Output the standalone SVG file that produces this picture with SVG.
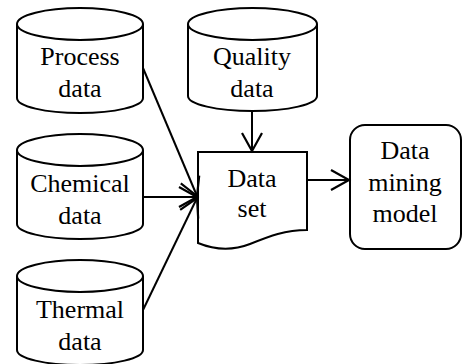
<svg xmlns="http://www.w3.org/2000/svg" width="463" height="364" viewBox="0 0 463 364">
<defs>
<style>
.s{fill:#fff;stroke:#000;stroke-width:2}
.l{fill:none;stroke:#000;stroke-width:2}
.t{font-family:"Liberation Serif","Times New Roman",serif;font-size:26px;fill:#000;text-anchor:middle}
</style>
<marker id="a" markerUnits="userSpaceOnUse" markerWidth="24" markerHeight="24" viewBox="-20 -12 22 24" refX="0" refY="0" orient="auto" overflow="visible">
<path d="M-18,-10 L0,0 L-18,10" fill="none" stroke="#000" stroke-width="2.2"/>
</marker>
</defs>
<g id="process">
<path class="s" d="M17,24 A63,16 0 0 1 143,24 L143,98 A63,15 0 0 1 17,98 Z"/>
<path class="l" d="M17,24 A63,16 0 0 0 143,24"/>
<text class="t" x="80" y="65">Process</text>
<text class="t" x="80" y="97">data</text>
</g>
<g id="chemical">
<path class="s" d="M17,150 A63,16 0 0 1 143,150 L143,224 A63,15 0 0 1 17,224 Z"/>
<path class="l" d="M17,150 A63,16 0 0 0 143,150"/>
<text class="t" x="80" y="192">Chemical</text>
<text class="t" x="80" y="224">data</text>
</g>
<g id="thermal">
<path class="s" d="M17,276 A63,16 0 0 1 143,276 L143,350 A63,15 0 0 1 17,350 Z"/>
<path class="l" d="M17,276 A63,16 0 0 0 143,276"/>
<text class="t" x="80" y="318">Thermal</text>
<text class="t" x="80" y="350">data</text>
</g>
<g id="quality">
<path class="s" d="M188,24 A64.5,16 0 0 1 317,24 L317,96 A64.5,15 0 0 1 188,96 Z"/>
<path class="l" d="M188,24 A64.5,16 0 0 0 317,24"/>
<text class="t" x="252" y="65">Quality</text>
<text class="t" x="252" y="97">data</text>
</g>
<g id="dataset">
<path class="s" d="M198,152 L307,152 L307,230 C285,230 270,236 250,244 C232,251 215,250 198,243 Z"/>
<text class="t" x="252" y="187">Data</text>
<text class="t" x="252" y="217">set</text>
</g>
<g id="model">
<rect class="s" x="350" y="125" width="111" height="124" rx="15" ry="15"/>
<text class="t" x="405" y="159">Data</text>
<text class="t" x="405" y="191">mining</text>
<text class="t" x="405" y="222">model</text>
</g>
<g id="connectors">
<line class="l" x1="143" y1="68" x2="197" y2="196" marker-end="url(#a)"/>
<line class="l" x1="143" y1="197" x2="197" y2="197" marker-end="url(#a)"/>
<line class="l" x1="143" y1="310" x2="197" y2="198" marker-end="url(#a)"/>
<line class="l" x1="252" y1="111" x2="252" y2="151" marker-end="url(#a)"/>
<line class="l" x1="307" y1="180" x2="349" y2="180" marker-end="url(#a)"/>
</g>
</svg>
